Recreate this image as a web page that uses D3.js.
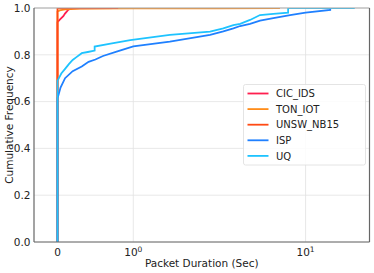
<!DOCTYPE html>
<html lang="en">
<head>
<meta charset="UTF-8">
<title>Packet duration CDF</title>
<script src="https://cdn.jsdelivr.net/npm/d3@7"></script>
<style>
    body { margin: 0; background: #fff; }
    svg { display: block; font-family: "DejaVu Sans", sans-serif; }
</style>
</head>
<body>
<div id="chart"></div>
<script>
// series, in drawing order
var names = ["CIC_IDS", "TON_IOT", "UNSW_NB15", "ISP", "UQ"];
var colors = ["#ff1f4f", "#ff8c1a", "#ff4a14", "#1f80ff", "#1ec3ff"];

// durations (sec) and cumulative frequency
var cicX = [0, 0, 0.03, 0.077, 0.099, 0.143, 0.2, 0.5];
var cicY = [0, 0.94, 0.95, 0.965, 0.976, 0.993, 1.0, 1.0];
var tonX = [0, 0, 0.03, 0.1, 0.3, 1, 3, 7.1];
var tonY = [0, 0.985, 0.99, 0.994, 0.997, 0.998, 0.999, 1.0];
var unswX = [0, 0, 0.8];
var unswY = [0, 0.999, 1.0];
var ispX = [0, 0, 0.01, 0.04, 0.1, 0.2, 0.32, 0.41, 0.5, 0.6, 0.79, 1.0, 1.63, 2.79, 3.33, 3.81, 4.17, 4.76, 5.44, 6.5, 8.13, 10, 13.9, 13.9];
var ispY = [0, 0.615, 0.625, 0.66, 0.7, 0.73, 0.75, 0.77, 0.78, 0.795, 0.815, 0.836, 0.856, 0.885, 0.9, 0.913, 0.923, 0.932, 0.946, 0.957, 0.97, 0.98, 0.992, 1.0];
var uqX = [0, 0, 0.01, 0.05, 0.1, 0.15, 0.2, 0.25, 0.32, 0.4, 0.49, 0.49, 0.7, 0.96, 1.63, 2.79, 3.33, 3.81, 4.17, 4.76, 5.44, 6.5, 7.92, 7.92, 19.3];
var uqY = [0, 0.69, 0.695, 0.72, 0.74, 0.76, 0.778, 0.79, 0.807, 0.812, 0.818, 0.835, 0.848, 0.863, 0.885, 0.899, 0.913, 0.927, 0.932, 0.949, 0.97, 0.975, 0.98, 1.0, 1.0];

var xTicks = [0, 1, 10];
var xTickBase = ["0", "10", "10"];
var xTickExp = ["", "0", "1"];
var yTicks = [0, 0.2, 0.4, 0.6, 0.8, 1.0];

var seriesX = [cicX, tonX, unswX, ispX, uqX];
var seriesY = [cicY, tonY, unswY, ispY, uqY];

var width = 374, height = 273;
var margin = {left: 34, right: 4.5, top: 8, bottom: 31};

// symlog like axis: linear between 0 and 1, log above
var linPart = 0.44;
function symlog(v) {
    if (Math.abs(v) <= 1) return v * linPart;
    return Math.sign(v) * (linPart + Math.log10(Math.abs(v)));
}
var xLin = d3.scaleLinear()
    .domain([symlog(-0.31), symlog(23.5)])
    .range([margin.left, width - margin.right]);
var x = function (v) { return xLin(symlog(v)); };
var y = d3.scaleLinear().domain([0, 1]).range([height - margin.bottom, margin.top]);

var svg = d3.select("#chart").append("svg")
    .attr("width", width)
    .attr("height", height);

svg.append("defs").append("clipPath").attr("id", "clip")
    .append("rect")
    .attr("x", margin.left).attr("y", margin.top)
    .attr("width", width - margin.left - margin.right)
    .attr("height", height - margin.top - margin.bottom);

// grid
svg.append("g").selectAll("line").data(yTicks).enter().append("line")
    .attr("x1", margin.left).attr("x2", width - margin.right)
    .attr("y1", function (d) { return y(d); }).attr("y2", function (d) { return y(d); })
    .attr("stroke", "#e2e2e2").attr("stroke-width", 0.8);
svg.append("g").selectAll("line").data(xTicks).enter().append("line")
    .attr("x1", function (d) { return x(d); }).attr("x2", function (d) { return x(d); })
    .attr("y1", margin.top).attr("y2", height - margin.bottom)
    .attr("stroke", "#e2e2e2").attr("stroke-width", 0.8);

// lines
var line = d3.line()
    .x(function (d) { return x(d[0]); })
    .y(function (d) { return y(d[1]); });
var plot = svg.append("g").attr("clip-path", "url(#clip)");
names.forEach(function (n, i) {
    var pts = seriesX[i].map(function (v, j) { return [v, seriesY[i][j]]; });
    plot.append("path")
        .datum(pts)
        .attr("d", line)
        .attr("fill", "none")
        .attr("stroke", colors[i])
        .attr("stroke-width", 1.8);
});

// spines
var x0 = margin.left, x1 = width - margin.right, y0 = height - margin.bottom, y1 = margin.top;
svg.append("line").attr("x1", x0).attr("x2", x1).attr("y1", y1).attr("y2", y1)
    .attr("stroke", "#aaaaaa").attr("stroke-width", 1.2);
svg.append("line").attr("x1", x1).attr("x2", x1).attr("y1", y1).attr("y2", y0)
    .attr("stroke", "#666").attr("stroke-width", 1.2);
svg.append("line").attr("x1", x0).attr("x2", x0).attr("y1", y1).attr("y2", y0)
    .attr("stroke", "#666").attr("stroke-width", 1.2);
svg.append("line").attr("x1", x0).attr("x2", x1).attr("y1", y0).attr("y2", y0)
    .attr("stroke", "#666").attr("stroke-width", 1.2);

// y tick labels
svg.append("g").selectAll("text").data(yTicks).enter().append("text")
    .attr("x", margin.left - 3.5)
    .attr("y", function (d) { return y(d); })
    .attr("dy", "0.36em")
    .attr("text-anchor", "end")
    .attr("font-size", 10.5)
    .attr("fill", "#222")
    .text(function (d) { return d.toFixed(1); });

// x tick labels
var xt = svg.append("g").selectAll("text").data(xTicks).enter().append("text")
    .attr("x", function (d) { return x(d); })
    .attr("y", y0 + 14)
    .attr("text-anchor", "middle")
    .attr("font-size", 10.5)
    .attr("fill", "#222");
xt.append("tspan").text(function (d, i) { return xTickBase[i]; });
xt.append("tspan")
    .attr("dy", -4.5)
    .attr("font-size", 7.5)
    .text(function (d, i) { return xTickExp[i]; });

// axis labels
svg.append("text")
    .attr("x", (x0 + x1) / 2)
    .attr("y", height - 6)
    .attr("text-anchor", "middle")
    .attr("font-size", 10.5)
    .attr("fill", "#222")
    .text("Packet Duration (Sec)");
svg.append("text")
    .attr("transform", "translate(13," + ((y0 + y1) / 2) + ") rotate(-90)")
    .attr("text-anchor", "middle")
    .attr("font-size", 10.5)
    .attr("fill", "#222")
    .text("Cumulative Frequency");

// legend
var lg = svg.append("g");
lg.append("rect")
    .attr("x", 243.5).attr("y", 84.5)
    .attr("width", 122).attr("height", 80.5)
    .attr("rx", 2)
    .attr("fill", "#fff").attr("fill-opacity", 0.85)
    .attr("stroke", "#dddddd").attr("stroke-width", 0.8);
names.forEach(function (n, i) {
    var ly = 93.5 + i * 15.6;
    lg.append("line")
        .attr("x1", 247.5).attr("x2", 268.5)
        .attr("y1", ly).attr("y2", ly)
        .attr("stroke", colors[i]).attr("stroke-width", 1.8);
    lg.append("text")
        .attr("x", 276).attr("y", ly)
        .attr("dy", "0.36em")
        .attr("font-size", 10)
        .attr("fill", "#222")
        .text(n);
});
</script>
</body>
</html>
